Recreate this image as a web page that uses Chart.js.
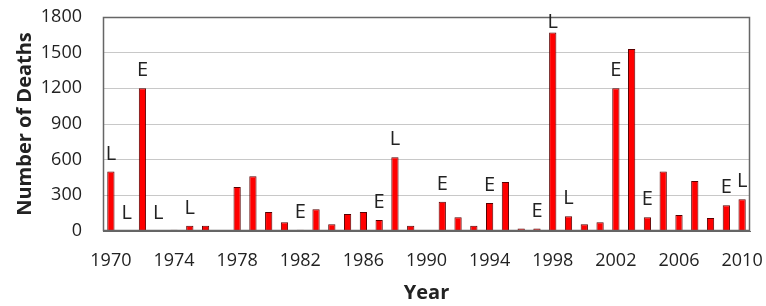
<!DOCTYPE html>
<html>
<head>
<meta charset="utf-8">
<script src="https://cdn.jsdelivr.net/npm/chart.js@4.4.0/dist/chart.umd.min.js"></script>
<style>
    body { margin: 0; background: #fff; }
    canvas { display: block; }
</style>
</head>
<body>
<canvas id="deathsChart" width="766" height="306"></canvas>
<script>
// Data
const years = ['1970', '1971', '1972', '1973', '1974', '1975', '1976', '1977', '1978', '1979',
    '1980', '1981', '1982', '1983', '1984', '1985', '1986', '1987', '1988', '1989',
    '1990', '1991', '1992', '1993', '1994', '1995', '1996', '1997', '1998', '1999',
    '2000', '2001', '2002', '2003', '2004', '2005', '2006', '2007', '2008', '2009', '2010'];
const deaths = [500, 0, 1200, 0, 10, 45, 45, 0, 370, 460,
    160, 73, 10, 182, 56, 143, 160, 92, 620, 45,
    5, 247, 115, 45, 235, 412, 20, 20, 1670, 124,
    56, 73, 1200, 1530, 115, 500, 135, 420, 109, 216, 267];
// L / E markers above the bars ('' = none)
const markers = ['L', 'L', 'E', 'L', '', 'L', '', '', '', '',
    '', '', 'E', '', '', '', '', 'E', 'L', '',
    '', 'E', '', '', 'E', '', '', 'E', 'L', 'L',
    '', '', 'E', '', 'E', '', '', '', '', 'E', 'L'];
const xTickLabels = ['1970', '1974', '1978', '1982', '1986', '1990', '1994', '1998', '2002', '2006', '2010'];
const yTicks = [0, 300, 600, 900, 1200, 1500, 1800];

// box round the plot + the L/E letters
const markerPlugin = {
    id: 'markers',
    afterDraw: (chart) => {
        const ctx = chart.ctx;
        const meta = chart.getDatasetMeta(0);
        const a = chart.chartArea;
        const l = Math.round(a.left) + 0.5, r = Math.round(a.right) - 0.5;
        const t = Math.round(a.top) + 0.5, b = Math.round(a.bottom) - 0.5;
        ctx.save();
        ctx.strokeStyle = '#666666';
        ctx.lineWidth = 1.5;
        ctx.beginPath();
        ctx.moveTo(l, t);
        ctx.lineTo(r, t);
        ctx.lineTo(r, b);
        ctx.lineTo(l, b);
        ctx.closePath();
        ctx.stroke();
        ctx.fillStyle = '#222';
        ctx.font = '20px "Open Sans"';
        ctx.textAlign = 'center';
        ctx.textBaseline = 'alphabetic';
        meta.data.forEach((bar, i) => {
            if (!markers[i]) return;
            let bottom = Math.max(bar.y - 12, 28);
            ctx.fillText(markers[i], bar.x, bottom);
        });
        ctx.restore();
    }
};

// keep the plot box where the picture has it
const noScalePadding = (scale) => {
    scale.paddingTop = 0;
    scale.paddingBottom = 0;
    scale.paddingLeft = 0;
    scale.paddingRight = 0;
};

const renderChart = () => {
    let ctx = document.querySelector('#deathsChart');
    let chart = new Chart(ctx, {
        type: 'bar',
        data: {
            labels: years,
            datasets: [{
                data: deaths,
                backgroundColor: '#ff0000',
                borderColor: '#5a0000',
                borderWidth: 1,
                borderSkipped: 'bottom',
                categoryPercentage: 1,
                barPercentage: 0.46
            }]
        },
        plugins: [markerPlugin],
        options: {
            responsive: false,
            animation: false,
            layout: {
                padding: { left: 0, top: 17, right: 16, bottom: 0 }
            },
            plugins: {
                legend: { display: false },
                tooltip: { enabled: false }
            },
            scales: {
                x: {
                    grid: { drawOnChartArea: false, drawTicks: false },
                    border: { display: true, color: '#666666', width: 1 },
                    ticks: {
                        autoSkip: false,
                        maxRotation: 0,
                        padding: 19,
                        color: '#222',
                        font: { family: '"Open Sans"', size: 18 },
                        callback: function (value) {
                            let label = this.getLabelForValue(value);
                            return xTickLabels.includes(label) ? label : '';
                        }
                    },
                    title: {
                        display: true,
                        text: 'Year',
                        color: '#222',
                        padding: { top: 0, bottom: 1 },
                        font: { family: '"Open Sans"', size: 20, weight: 'bold' }
                    },
                    afterFit: (scale) => {
                        scale.height = 75;
                        noScalePadding(scale);
                    }
                },
                y: {
                    min: 0,
                    max: 1800,
                    afterBuildTicks: (scale) => {
                        scale.ticks = yTicks.map(v => ({ value: v }));
                    },
                    grid: {
                        drawTicks: false,
                        color: '#c8c8c8'
                    },
                    border: { display: true, color: '#666666', width: 1 },
                    ticks: {
                        padding: 21,
                        color: '#222',
                        font: { family: '"Open Sans"', size: 18 },
                        callback: (value) => String(value)
                    },
                    title: {
                        display: true,
                        text: 'Number of Deaths',
                        color: '#222',
                        padding: { top: 13, bottom: 0 },
                        font: { family: '"Open Sans"', size: 20, weight: 'bold' }
                    },
                    afterFit: (scale) => {
                        scale.width = 103;
                        noScalePadding(scale);
                    }
                }
            }
        }
    });
}

renderChart();
</script>
</body>
</html>
